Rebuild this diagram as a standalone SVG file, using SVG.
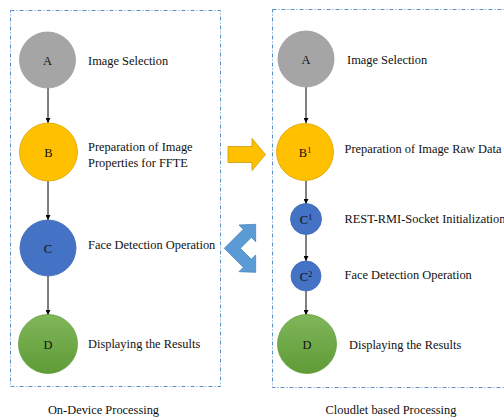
<svg xmlns="http://www.w3.org/2000/svg" width="504" height="417" viewBox="0 0 504 417">
<defs>
<style>
text{font-family:"Liberation Serif","Times New Roman",serif;font-size:12.4px;fill:#111}
.lbl{text-anchor:middle}
.box{fill:none;stroke:#5B8FC7;stroke-width:1;stroke-dasharray:4 2 1 2}
.cA{fill:#A5A5A5;stroke:#9a9a9a;stroke-width:0.8}
.cB{fill:#FFC000;stroke:#D9A400;stroke-width:0.8}
.cC{fill:#4472C4;stroke:#3d68b5;stroke-width:0.8}
.cD{fill:url(#gD);stroke:#62a03c;stroke-width:0.8}
.edge{stroke:#000;stroke-width:1;fill:none;marker-end:url(#ah)}
</style>
<linearGradient id="gD" x1="0" y1="0" x2="0" y2="1">
<stop offset="0" stop-color="#80B65A"/>
<stop offset="1" stop-color="#5E9B36"/>
</linearGradient>
<marker id="ah" viewBox="0 0 10 10" refX="10" refY="5" markerWidth="5" markerHeight="5" orient="auto" markerUnits="userSpaceOnUse">
<path d="M0,0 L10,5 L0,10 z" fill="#000"/>
</marker>
</defs>
<rect class="box" x="10.5" y="10.5" width="210" height="376"/>
<rect class="box" x="272.5" y="9.5" width="240" height="378"/>
<g id="connectors">
<line class="edge" x1="48" y1="88" x2="48" y2="123"/>
<line class="edge" x1="48" y1="181" x2="48" y2="220"/>
<line class="edge" x1="48" y1="276" x2="48" y2="315"/>
<line class="edge" x1="306" y1="87" x2="306" y2="123"/>
<line class="edge" x1="306" y1="181" x2="306" y2="204"/>
<line class="edge" x1="306" y1="234" x2="306" y2="261"/>
<line class="edge" x1="306" y1="291" x2="306" y2="315"/>
</g>
<g id="L-A"><circle class="cA" cx="47.5" cy="60" r="28"/><text class="lbl" x="47.5" y="65">A</text><text x="88" y="65">Image Selection</text></g>
<g id="L-B"><circle class="cB" cx="48.5" cy="152" r="29"/><text class="lbl" x="48.5" y="157">B</text><text x="88" y="151">Preparation of Image</text><text x="88" y="166.5">Properties for FFTE</text></g>
<g id="L-C"><circle class="cC" cx="48" cy="248" r="28"/><text class="lbl" x="48" y="253">C</text><text x="88" y="249">Face Detection Operation</text></g>
<g id="L-D"><circle class="cD" cx="48" cy="344" r="29.5"/><text class="lbl" x="48" y="349">D</text><text x="88" y="347.5">Displaying the Results</text></g>
<g id="R-A"><circle class="cA" cx="306" cy="59" r="28"/><text class="lbl" x="306" y="64">A</text><text x="347" y="63.5">Image Selection</text></g>
<g id="R-B1"><circle class="cB" cx="305" cy="152" r="28.5"/><text class="lbl" x="305" y="157">B<tspan font-size="8" dy="-4">1</tspan></text><text x="344.5" y="153">Preparation of Image Raw Data</text></g>
<g id="R-C1"><circle class="cC" cx="306" cy="219" r="15.5"/><text class="lbl" x="306" y="224">C<tspan font-size="8" dy="-4">1</tspan></text><text x="344.5" y="222.5">REST-RMI-Socket Initialization</text></g>
<g id="R-C2"><circle class="cC" cx="306" cy="276" r="15"/><text class="lbl" x="306" y="281">C<tspan font-size="8" dy="-4">2</tspan></text><text x="344.5" y="279">Face Detection Operation</text></g>
<g id="R-D"><circle class="cD" cx="307" cy="344" r="29.5"/><text class="lbl" x="307" y="349">D</text><text x="349" y="349">Displaying the Results</text></g>
<g id="orange-arrow"><polygon points="228,146.5 252,146.5 252,138.5 265.5,154.5 252,170.5 252,162.5 228,162.5" fill="#FFC000" stroke="#C99A06" stroke-width="0.8"/></g>
<g id="blue-arrow"><polygon transform="translate(215 215) scale(0.3333)" points="28,100 85,43 72,30 122,28 122,80 109,67 76,100 109,133 122,120 122,172 72,170 85,157" fill="#5B9BD5" stroke="#4A84BA" stroke-width="2.4"/></g>
<text class="lbl" x="103.5" y="414">On-Device Processing</text>
<text class="lbl" x="391" y="414">Cloudlet based Processing</text>
</svg>
